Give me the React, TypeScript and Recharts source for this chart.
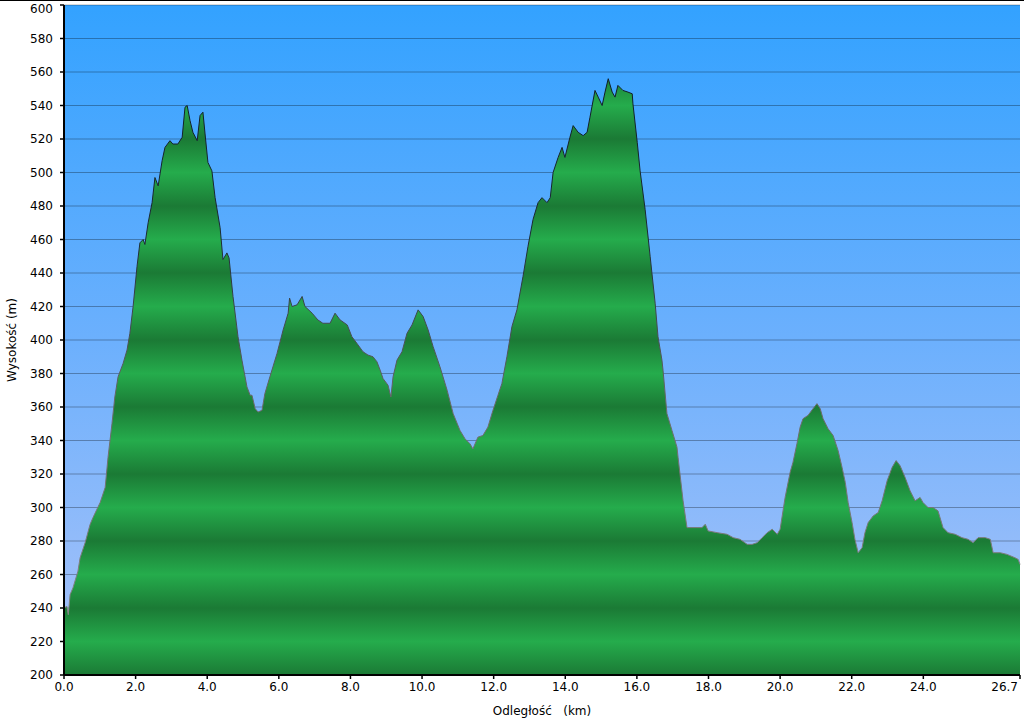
import React from 'react';
import { AreaChart, Area, XAxis, YAxis, CartesianGrid } from 'recharts';

const distanceKm = [
  0.0, 0.08, 0.12, 0.17, 0.25, 0.39, 0.45, 0.59, 0.73, 0.81, 1.01, 1.15, 1.23, 1.34, 1.42, 1.51, 1.65, 1.76, 1.84, 1.93,
  2.04, 2.12, 2.21, 2.26, 2.35, 2.46, 2.54, 2.63, 2.74, 2.82, 2.96, 3.04, 3.18, 3.3, 3.38, 3.44, 3.52, 3.6, 3.72, 3.8,
  3.88, 3.94, 4.02, 4.13, 4.22, 4.36, 4.44, 4.55, 4.61, 4.72, 4.86, 4.97, 5.11, 5.2, 5.25, 5.34, 5.42, 5.53, 5.61, 5.75,
  5.95, 6.12, 6.26, 6.3, 6.37, 6.51, 6.65, 6.73, 6.93, 7.09, 7.23, 7.43, 7.57, 7.71, 7.91, 8.04, 8.18, 8.35, 8.49, 8.63,
  8.74, 8.83, 8.91, 9.05, 9.13, 9.19, 9.3, 9.44, 9.58, 9.72, 9.89, 10.03, 10.17, 10.31, 10.5, 10.7, 10.87, 11.06, 11.2, 11.34,
  11.42, 11.56, 11.7, 11.84, 11.98, 12.12, 12.23, 12.37, 12.51, 12.65, 12.82, 12.96, 13.1, 13.24, 13.35, 13.49, 13.58, 13.66, 13.8, 13.91,
  13.99, 14.13, 14.22, 14.36, 14.5, 14.61, 14.69, 14.83, 14.92, 15.03, 15.11, 15.2, 15.31, 15.39, 15.47, 15.61, 15.75, 15.87, 15.89, 16.01,
  16.09, 16.23, 16.37, 16.51, 16.59, 16.7, 16.73, 16.84, 16.98, 17.12, 17.15, 17.29, 17.4, 17.54, 17.68, 17.82, 17.91, 17.99, 18.24, 18.52,
  18.69, 18.88, 19.08, 19.22, 19.36, 19.5, 19.64, 19.78, 19.92, 20.0, 20.14, 20.28, 20.36, 20.47, 20.56, 20.64, 20.78, 20.92, 21.03, 21.12,
  21.2, 21.34, 21.48, 21.62, 21.73, 21.82, 21.9, 22.01, 22.09, 22.18, 22.29, 22.37, 22.46, 22.6, 22.74, 22.85, 22.99, 23.13, 23.24, 23.35,
  23.49, 23.63, 23.77, 23.91, 23.99, 24.13, 24.27, 24.41, 24.55, 24.69, 24.89, 25.08, 25.25, 25.39, 25.53, 25.73, 25.87, 25.95, 26.15, 26.34,
  26.56, 26.65, 26.7,
];

const elevationM = [
  240, 241, 236, 248, 252, 262, 270, 279, 290, 294, 303, 312, 330, 350, 366, 378, 386, 394, 404, 420,
  444, 458, 460, 457, 470, 482, 497, 492, 507, 515, 519, 517, 517, 521, 539, 540, 531, 524, 519, 534,
  536, 523, 506, 501, 485, 467, 448, 452, 449, 426, 402, 388, 372, 367, 367, 359, 357, 358, 368, 378,
  392, 406, 416, 425, 420, 421, 426, 420, 416, 412, 410, 410, 416, 412, 409, 402, 398, 393, 391, 390,
  387, 382, 377, 373, 366, 378, 388, 393, 404, 409, 418, 414, 406, 396, 384, 370, 356, 346, 341, 338,
  335, 342, 343, 348, 358, 367, 374, 390, 408, 418, 438, 456, 472, 482, 485, 482, 485, 500, 509, 515,
  509, 521, 528, 524, 522, 524, 533, 549, 545, 540, 548, 556, 548, 545, 552, 549, 548, 547, 541, 518,
  501, 478, 450, 422, 402, 388, 382, 356, 346, 336, 330, 304, 288, 288, 288, 288, 290, 286, 285, 284,
  282, 281, 278, 278, 279, 282, 285, 287, 284, 287, 306, 321, 327, 338, 348, 353, 355, 359, 362, 359,
  353, 347, 343, 334, 324, 315, 303, 291, 281, 273, 276, 285, 291, 295, 297, 304, 316, 324, 328, 325,
  318, 310, 304, 306, 303, 300, 300, 298, 288, 285, 284, 282, 281, 279, 282, 282, 281, 273, 273, 272,
  270, 269, 266,
];

const xTicks = [0, 2, 4, 6, 8, 10, 12, 14, 16, 18, 20, 22, 24, 26.7];
const yTicks = [200, 220, 240, 260, 280, 300, 320, 340, 360, 380, 400, 420, 440, 460, 480, 500, 520, 540, 560, 580, 600];

const data = distanceKm.map((km, i) => ({ km, ele: elevationM[i] }));

const W = 1024;
const H = 721;
const TOP = 5;
const BOTTOM = 675;
const pyOf = (v: number) => TOP + ((600 - v) * (BOTTOM - TOP)) / 400;

const FONT_FAMILY = '"DejaVu Sans", Verdana, sans-serif';
const font = { fontFamily: FONT_FAMILY, fontSize: 12, fill: '#000' };

const XTick = (props: any) => {
  const { x, y, payload } = props;
  const isLast = payload.value === xTicks[xTicks.length - 1];
  return (
    <text
      x={isLast ? x - 2 : x}
      y={y}
      dy="0.71em"
      textAnchor={isLast ? 'end' : 'middle'}
      fontFamily={FONT_FAMILY}
      fontSize={12}
      fill="#000"
    >
      {Number(payload.value).toFixed(1)}
    </text>
  );
};

const YTick = (props: any) => {
  const { x, y, payload } = props;
  const isTop = payload.value === yTicks[yTicks.length - 1];
  return (
    <text
      x={x}
      y={isTop ? y + 4 : y}
      dy="0.355em"
      textAnchor="end"
      fontFamily={FONT_FAMILY}
      fontSize={12}
      fill="#000"
    >
      {payload.value}
    </text>
  );
};

export default function App() {
  return (
    <div style={{ position: 'absolute', left: 0, top: 0, width: W, height: H, background: '#fff' }}>
      <AreaChart width={W} height={H} data={data} margin={{ top: TOP, right: 4, left: 0, bottom: 0 }}>
        <defs>
          <linearGradient id="bg" x1="0" y1="0" x2="0" y2="1">
            <stop offset="0" stopColor="#33a2ff" />
            <stop offset="0.5" stopColor="#6cb0fd" />
            <stop offset="1" stopColor="#abc3f8" />
          </linearGradient>
          <linearGradient
            id="stripes"
            gradientUnits="userSpaceOnUse"
            x1="0"
            y1={pyOf(240)}
            x2="0"
            y2={pyOf(200)}
            spreadMethod="repeat"
          >
            <stop offset="0" stopColor="#1b7a35" />
            <stop offset="0.5" stopColor="#25ac4c" />
            <stop offset="1" stopColor="#1b7a35" />
          </linearGradient>
          <linearGradient id="edge" gradientUnits="userSpaceOnUse" x1="0" y1={TOP} x2="0" y2={BOTTOM}>
            <stop offset="0" stopColor="#0a1622" />
            <stop offset="0.35" stopColor="#1c2a33" />
            <stop offset="0.6" stopColor="#6a6a6a" />
            <stop offset="1" stopColor="#8a8a8a" />
          </linearGradient>
        </defs>
        <CartesianGrid fill="url(#bg)" horizontal={false} vertical={false} />
        <XAxis
          dataKey="km"
          type="number"
          domain={[0, 26.7]}
          ticks={xTicks}
          interval={0}
          height={46}
          tickSize={4}
          tickMargin={3}
          axisLine={{ stroke: '#000', strokeWidth: 2 }}
          tickLine={{ stroke: '#000', strokeWidth: 1.5 }}
          tick={<XTick />}
          label={{ value: 'Odległość\u00a0\u00a0\u00a0(km)', position: 'insideBottom', offset: 6, style: { ...font, textAnchor: 'middle' } }}
        />
        <YAxis
          type="number"
          domain={[200, 600]}
          ticks={yTicks}
          interval={0}
          width={64}
          tickSize={4}
          tickMargin={7}
          axisLine={{ stroke: '#000', strokeWidth: 2 }}
          tickLine={{ stroke: '#000', strokeWidth: 1.5 }}
          tick={<YTick />}
          label={{ value: 'Wysokość (m)', angle: -90, position: 'insideLeft', offset: 12, style: { ...font, textAnchor: 'middle' } }}
        />
        <Area
          type="linear"
          dataKey="ele"
          stroke="url(#edge)"
          strokeWidth={1}
          fill="url(#stripes)"
          fillOpacity={1}
          isAnimationActive={false}
          dot={false}
          activeDot={false}
        />
        <CartesianGrid vertical={false} stroke="rgba(0,0,0,0.3)" strokeDasharray="" horizontalValues={yTicks} />
      </AreaChart>
      <div style={{ position: 'absolute', left: 0, top: 0, width: W, height: 1, background: '#000' }} />
    </div>
  );
}
